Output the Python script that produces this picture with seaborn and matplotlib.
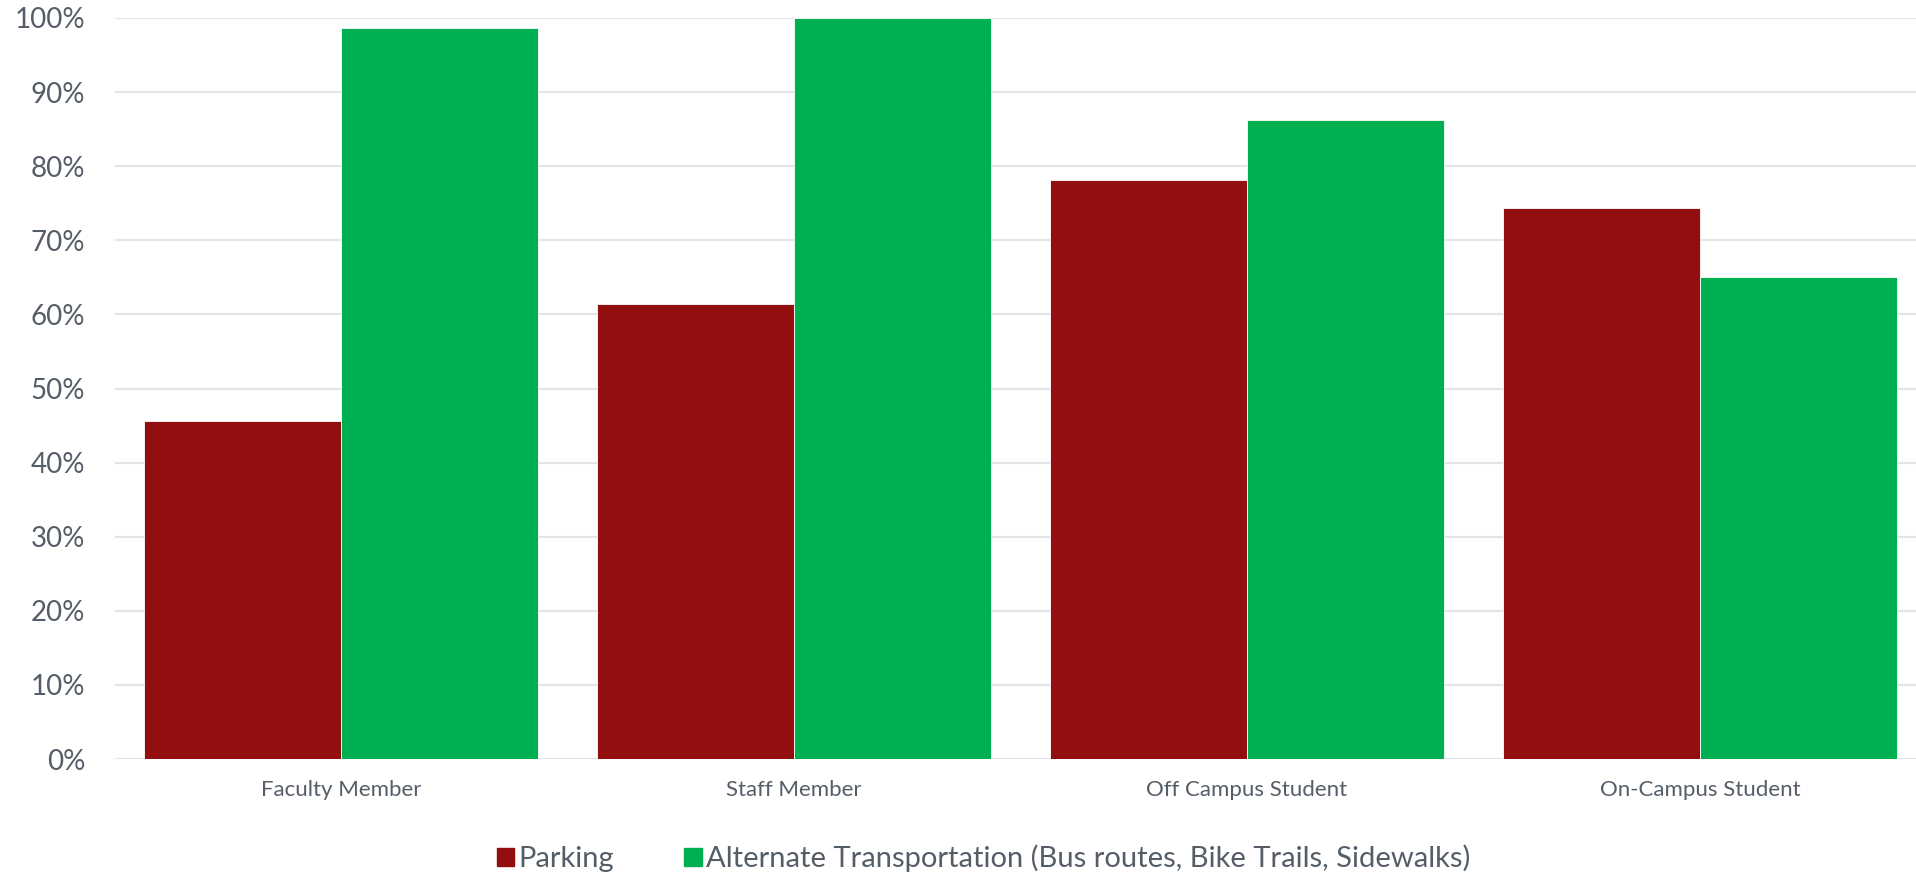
import pandas as pd
import seaborn as sns
import matplotlib.pyplot as plt
from matplotlib.ticker import PercentFormatter

# -----------------------------
# Data
# -----------------------------
categories = ["Faculty Member", "Staff Member", "Off Campus Student", "On-Campus Student"]
series_names = ["Parking", "Alternate Transportation (Bus routes, Bike Trails, Sidewalks)"]
parking = [0.456, 0.614, 0.781, 0.744]
alternate = [0.986, 1.0, 0.863, 0.651]

colors = ["#930E0F", "#00AF50"]
text_color = "#555E68"
grid_color = "#E1E4E8"

df = pd.DataFrame({
    "category": categories * 2,
    "series": [series_names[0]] * len(categories) + [series_names[1]] * len(categories),
    "value": parking + alternate,
})

# -----------------------------
# Plot
# -----------------------------
sns.set_theme(style="white")
plt.rcParams["font.family"] = ["Lato", "DejaVu Sans"]

fig = plt.figure(figsize=(19.16, 8.76), dpi=100)
ax = fig.add_axes([114.5 / 1916, 117 / 876, 1812 / 1916, 741 / 876])

sns.barplot(data=df, x="category", y="value", hue="series", order=categories,
            hue_order=series_names, palette=colors, saturation=1, width=0.87, gap=0,
            edgecolor="white", linewidth=0.6, ax=ax, legend=False)

ax.set_xlim(-0.5, 3.5)
ax.set_ylim(0, 1.0)
ax.set_yticks([i / 10 for i in range(11)])
ax.yaxis.set_major_formatter(PercentFormatter(1.0, decimals=0))
ax.grid(axis="y", color=grid_color, linewidth=1.5)
ax.set_axisbelow(True)
for s in ax.spines.values():
    s.set_visible(False)
ax.set_xlabel("")
ax.set_ylabel("")
ax.tick_params(axis="y", length=0, pad=21, labelsize=20, labelcolor=text_color)
ax.tick_params(axis="x", length=0, pad=15, labelsize=16, labelcolor=text_color)

handles = [plt.Rectangle((0, 0), 1, 1, color=c) for c in colors]
fig.legend(handles, series_names, loc="center", bbox_to_anchor=(0.5135, 0.02),
           ncol=2, frameon=False, fontsize=21, labelcolor=text_color,
           handlelength=0.6, handleheight=0.6, handletextpad=0.15, columnspacing=2.4)

fig.savefig("out.png", dpi=100)
plt.close(fig)
